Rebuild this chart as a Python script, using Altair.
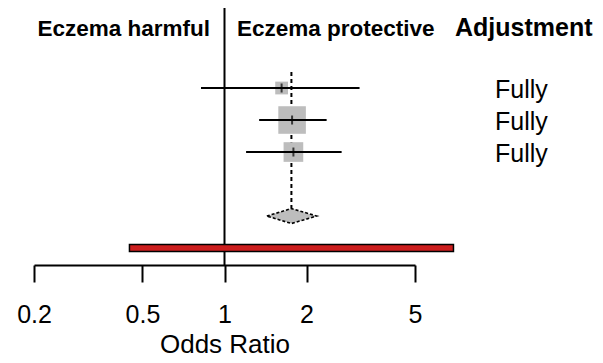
import altair as alt
import pandas as pd

# ---- data ----
labels = ["Fully", "Fully", "Fully"]
rows = [5, 4, 3]
or_est = [1.62, 1.77, 1.79]
ci_lo = [0.82, 1.34, 1.20]
ci_hi = [3.13, 2.37, 2.69]
weights = [12.2, 57.0, 29.0]          # study weights (%)

summary_row = 1
summary_est = 1.76
summary_lo = 1.43
summary_hi = 2.18

pred_row = 0
pred_lo = 0.448
pred_hi = 6.92

tick_values = [0.2, 0.5, 1, 2, 5]

FONT = "Liberation Sans"

studies = pd.DataFrame({"label": labels, "row": rows, "est": or_est,
                        "lo": ci_lo, "hi": ci_hi, "w": weights})

xs = alt.Scale(type="log", domain=[0.2, 5], nice=False, zero=False)
ys = alt.Scale(domain=[-0.53, 7.5], nice=False, zero=False)
xaxis = alt.Axis(values=tick_values, format=".1~f", grid=False,
                 domainColor="black", domainWidth=2, tickColor="black",
                 tickWidth=2, tickSize=17, labelFont=FONT, labelFontSize=25,
                 labelColor="black", labelPadding=20, labelFlush=False,
                 labelOverlap=False,
                 title="Odds Ratio", titleFont=FONT, titleFontSize=26,
                 titleFontWeight="normal", titleColor="black",
                 titleBaseline="alphabetic", titleY=87)


def X(field):
    return alt.X(field, type="quantitative", scale=xs, axis=xaxis, title="Odds Ratio")


def Y(field):
    return alt.Y(field, type="quantitative", scale=ys, axis=None)


# reference line at OR = 1
ref = pd.DataFrame({"v": [1], "top": [7.5], "bot": [-0.53]})
ref_line = alt.Chart(ref).mark_rule(color="black", strokeWidth=2).encode(
    x=X("v"), y=Y("top"), y2="bot")

# dashed line at summary estimate
dash = pd.DataFrame({"v": [summary_est], "top": [5.5], "bot": [summary_row + 0.234]})
dash_line = alt.Chart(dash).mark_rule(color="black", strokeWidth=2,
                                      strokeDash=[4, 3]).encode(
    x=X("v"), y=Y("top"), y2="bot")

squares = alt.Chart(studies).mark_square(color="#BDBDBD", opacity=1).encode(
    x=X("est"), y=Y("row"),
    size=alt.Size("w:Q", scale=alt.Scale(domain=[0, 57.0], range=[0, 760]),
                  legend=None))

ci = alt.Chart(studies).mark_rule(color="black", strokeWidth=2).encode(
    x=X("lo"), x2="hi", y=Y("row"))

ticks = alt.Chart(studies).mark_tick(orient="vertical", color="black",
                                     size=9, thickness=2).encode(
    x=X("est"), y=Y("row"))

# summary diamond
dia = pd.DataFrame({"v": [summary_lo, summary_est, summary_hi],
                    "top": [summary_row, summary_row + 0.234, summary_row],
                    "bot": [summary_row, summary_row - 0.234, summary_row]})
diamond = alt.Chart(dia).mark_area(fill="#BDBDBD", stroke="black",
                                   strokeWidth=1.6, strokeDash=[3, 2],
                                   fillOpacity=1).encode(
    x=X("v"), y=Y("top"), y2="bot")

# prediction interval bar
pred = pd.DataFrame({"lo": [pred_lo], "hi": [pred_hi],
                     "top": [pred_row + 0.11], "bot": [pred_row - 0.11]})
pred_bar = alt.Chart(pred).mark_rect(fill="#CC1E1E", stroke="black",
                                     strokeWidth=1.5).encode(
    x=X("lo"), x2="hi", y=Y("top"), y2="bot")

# right column labels
adj = alt.Chart(studies).mark_text(align="left", baseline="middle", font=FONT,
                                   fontSize=25, color="black", dy=2).encode(
    x=alt.value(461), y=Y("row"), text="label:N")

# headers
hdr = pd.DataFrame({"t": ["Eczema harmful"]})
h1 = alt.Chart(hdr).mark_text(align="right", baseline="alphabetic", font=FONT,
                              fontSize=22.5, fontWeight="bold", color="black").encode(
    x=alt.value(176), y=alt.value(27.5), text="t:N")
hdr2 = pd.DataFrame({"t": ["Eczema protective"]})
h2 = alt.Chart(hdr2).mark_text(align="left", baseline="alphabetic", font=FONT,
                               fontSize=22.5, fontWeight="bold", color="black").encode(
    x=alt.value(203), y=alt.value(27.5), text="t:N")
hdr3 = pd.DataFrame({"t": ["Adjustment"]})
h3 = alt.Chart(hdr3).mark_text(align="left", baseline="alphabetic", font=FONT,
                               fontSize=25, fontWeight="bold", color="black").encode(
    x=alt.value(421), y=alt.value(27.5), text="t:N")

chart = alt.layer(ref_line, dash_line, squares, ci, ticks, diamond, pred_bar,
                  adj, h1, h2, h3).properties(
    width=381, height=257,
    padding={"left": 26, "top": 0, "right": 180, "bottom": 96},
    autosize=alt.AutoSizeParams(type="none"),
    background="white",
).configure_view(stroke=None)

chart.save("out.html", embed_options={"renderer": "svg", "actions": False})
